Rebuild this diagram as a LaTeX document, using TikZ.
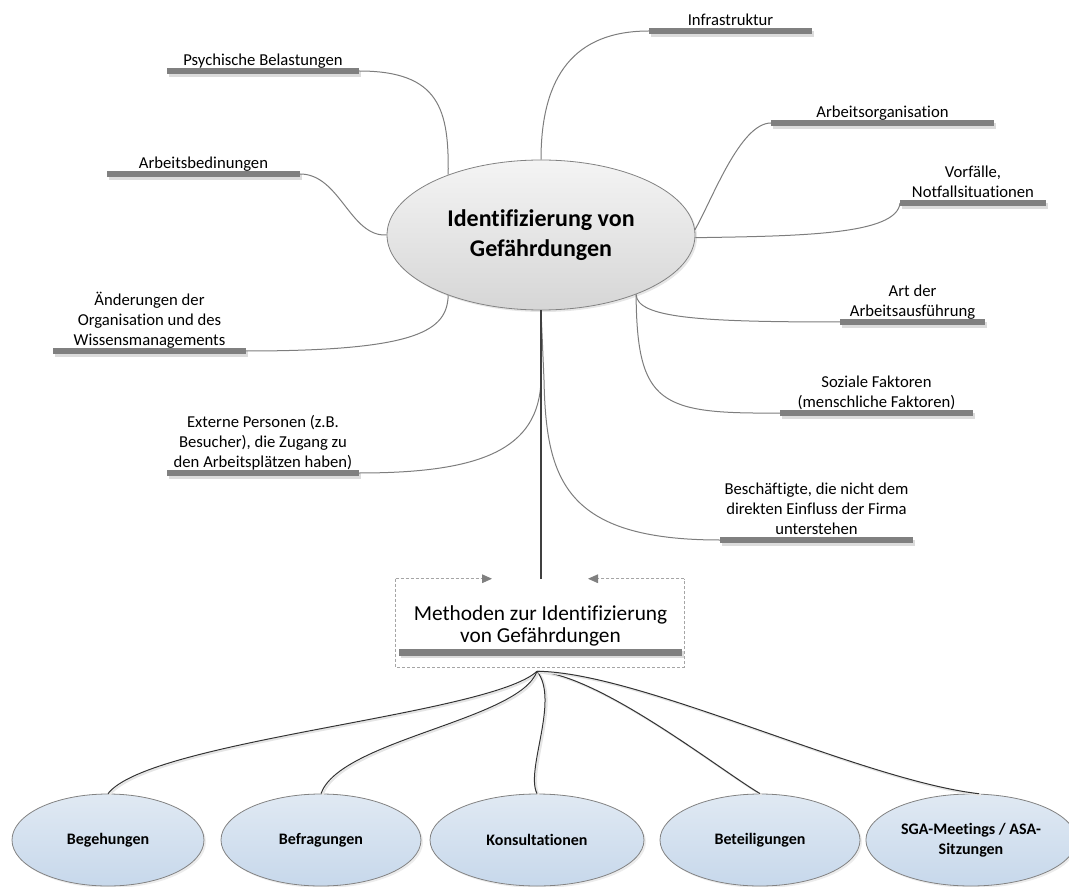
\documentclass[tikz,border=0pt]{standalone}
\usepackage{fontspec}
\setmainfont{Carlito}[Ligatures={NoCommon}]
\usetikzlibrary{shapes.geometric,arrows.meta,shadows}

\definecolor{barGray}{RGB}{128,128,128}
\definecolor{barShade}{RGB}{220,220,220}
\definecolor{lineGray}{RGB}{125,125,125}
\definecolor{mainGray}{RGB}{64,64,64}
\definecolor{edgeGray}{RGB}{130,130,130}
\definecolor{boxGray}{RGB}{165,165,165}
\definecolor{hubTop}{RGB}{244,244,244}
\definecolor{hubBottom}{RGB}{214,214,214}
\definecolor{methTop}{RGB}{224,233,243}
\definecolor{methBottom}{RGB}{199,216,235}

\tikzset{%
  hub/.style={
    ellipse,
    draw=edgeGray,
    line width=0.6pt,
    top color=hubTop,
    bottom color=hubBottom,
    minimum width=231pt,
    minimum height=112.5pt,
    align=center,
    font=\fontsize{18}{22.5}\selectfont\bfseries,
    drop shadow={shadow xshift=1.5pt, shadow yshift=-1.5pt, opacity=0.2}
  },
  topic bar/.style={
    rectangle,
    fill=barGray,
    minimum height=4.5pt,
    inner sep=0pt,
    outer sep=0pt,
    drop shadow={shadow xshift=1.5pt, shadow yshift=-2pt, opacity=1, fill=barShade}
  },
  topic text/.style={
    anchor=south,
    align=center,
    inner sep=0pt,
    yshift=-3pt,
    font=\fontsize{12.5}{15}\selectfont,
    execute at end node=\strut
  },
  branch/.style={draw=lineGray, line width=0.75pt},
  main line/.style={draw=mainGray, line width=2pt},
  method box/.style={
    rectangle,
    minimum width=216pt,
    minimum height=66pt,
    inner sep=0pt
  },
  method text/.style={
    anchor=south,
    align=center,
    inner sep=0pt,
    yshift=-1pt,
    font=\fontsize{16}{16.5}\selectfont,
    execute at end node=\strut
  },
  box edge/.style={draw=boxGray, line width=0.75pt, dash pattern=on 2.25pt off 1.5pt},
  feed arrow/.style={
    box edge,
    -{Triangle[length=7.5pt, width=6.5pt, color=barGray]}
  },
  method/.style={
    ellipse,
    draw=edgeGray,
    line width=0.6pt,
    top color=methTop,
    bottom color=methBottom,
    minimum height=69pt,
    align=center,
    font=\fontsize{12}{15}\selectfont\bfseries,
    drop shadow={shadow xshift=1.5pt, shadow yshift=-1.5pt, opacity=0.15}
  },
  method link/.style={
    draw=black!80,
    line width=0.75pt,
    preaction={draw=black!10, line width=1.5pt, transform canvas={xshift=1.2pt, yshift=-1pt}}
  },
}

\begin{document}
\begin{tikzpicture}[x=0.75pt, y=-0.75pt]

\useasboundingbox (0,0) rectangle (1069,887);

\node [hub] (hub) at (541,235) {Identifizierung von\\Gefährdungen};

% topics round the hub
\foreach \n/\xa/\xb/\y/\t in {
    psy/167/359/71/{Psychische Belastungen},
    bed/107/300/174/{Arbeitsbedinungen},
    aend/53/246/351/{Änderungen der\\Organisation und des\\Wissensmanagements},
    ext/167/359/473/{Externe Personen (z.B.\\Besucher), die Zugang zu\\den Arbeitsplätzen haben)},
    infra/649/812/31/{Infrastruktur},
    org/771/994/123/{Arbeitsorganisation},
    vorf/900/1046/203/{Vorfälle,\\Notfallsituationen},
    art/840/985/322/{Art der\\Arbeitsausführung},
    soz/780/973/413/{Soziale Faktoren\\(menschliche Faktoren)},
    besch/720/913/540/{Beschäftigte, die nicht dem\\direkten Einfluss der Firma\\unterstehen}}
{
  \node [topic bar, minimum width={(\xb-\xa)*0.75pt}] (\n-bar) at ({(\xa+\xb)/2},\y) {};
  \node [topic text] (\n) at (\n-bar.north) {\t};
}

\draw [branch] (psy-bar.east) .. controls (440,71) and (449,110) .. (hub.147);
\draw [branch] (bed-bar.east) .. controls (340,174) and (350,237) .. (hub.west);
\draw [branch] (aend-bar.east) .. controls (420,351) and (447,330) .. (hub.213);
\draw [branch] (ext-bar.east) .. controls (480,473) and (539,450) .. (541,380) -- (hub.south);
\draw [branch] (infra-bar.west) .. controls (575,31) and (541,75) .. (hub.north);
\draw [branch] (org-bar.west) .. controls (740,123) and (712,200) .. (hub.2);
\draw [branch] (vorf-bar.west) .. controls (897,235) and (800,236) .. (hub.-1);
\draw [branch] (art-bar.west) .. controls (700,322) and (637,318) .. (hub.328);
\draw [branch] (soz-bar.west) .. controls (660,414) and (637,405) .. (hub.328);
\draw [branch] (besch-bar.west) .. controls (565,540) and (546,480) .. (544,380) -- (hub.south);

% methods box
\node [method box] (meth) at (540,623) {};
\node [topic bar, minimum width=212pt, minimum height=5.25pt] (meth-bar) at (540.5,652) {};
\node [method text] (meth-text) at (meth-bar.north) {Methoden zur Identifizierung\\von Gefährdungen};

\coordinate (feed-l) at ([xshift=-36pt]meth.north);
\coordinate (feed-r) at ([xshift=36pt]meth.north);
\coordinate (fan) at ([xshift=-2.25pt, yshift=-3pt]meth.south);

\draw [box edge] (meth.north west) -- (meth.south west) -- (meth.south east) -- (meth.north east);
\draw [feed arrow] (meth.north west) -- (feed-l);
\draw [feed arrow] (meth.north east) -- (feed-r);

\draw [main line] (hub.south) -- (hub.south |- meth.north);

% methods
\foreach \n/\x/\w/\t in {
    beg/108/192/{Begehungen},
    befr/321/200/{Befragungen},
    kons/537/214/{Konsultationen},
    bet/760/200/{Beteiligungen},
    sga/971/196/{SGA-Meetings / ASA-\\Sitzungen}}
  \node [method, minimum width={\w*0.75pt}] (\n) at (\x,840) {\t};

\draw [method link] (fan) .. controls (490,715) and (150,740) .. (beg.north);
\draw [method link] (fan) .. controls (520,720) and (340,740) .. (befr.north);
\draw [method link] (fan) .. controls (560,700) and (525,770) .. (kons.north);
\draw [method link] (fan) .. controls (600,675) and (720,770) .. (bet.north);
\draw [method link] (fan) .. controls (640,672) and (860,780) .. (sga.80);

\end{tikzpicture}
\end{document}
